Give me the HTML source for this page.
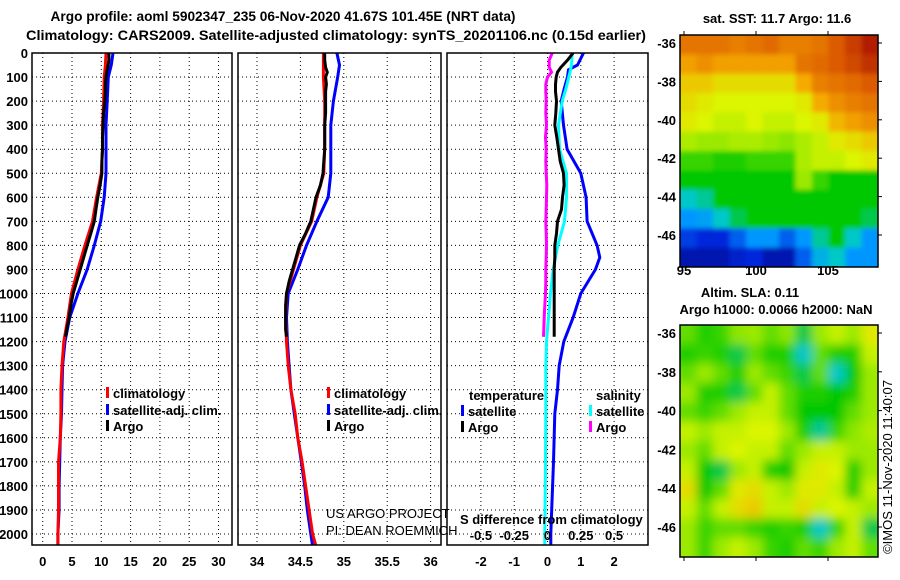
<!DOCTYPE html>
<html><head><meta charset="utf-8"><style>
html,body{margin:0;padding:0;background:#fff;}
svg{display:block;font-family:"Liberation Sans",Arial,sans-serif;}
.b{font-weight:bold;font-size:13px;}
</style></head><body>
<svg id="fig" width="900" height="580" viewBox="0 0 900 580" xmlns="http://www.w3.org/2000/svg">
<defs>
<clipPath id="c1"><rect x="32" y="53" width="200" height="492"/></clipPath>
<clipPath id="c2"><rect x="238" y="53" width="203" height="492"/></clipPath>
<clipPath id="c3"><rect x="447" y="53" width="201" height="492"/></clipPath>
<clipPath id="cm1"><rect x="680" y="35" width="198" height="232"/></clipPath>
<clipPath id="cm2"><rect x="680" y="325" width="198" height="232"/></clipPath>
<filter id="blur" x="0" y="0" width="1" height="1"><feGaussianBlur stdDeviation="5"/></filter>
<filter id="blur2" x="0" y="0" width="1" height="1"><feGaussianBlur stdDeviation="2.5"/></filter>
</defs>
<text x="283" y="21" text-anchor="middle" font-size="14" font-weight="bold" textLength="465" lengthAdjust="spacingAndGlyphs">Argo profile: aoml 5902347_235 06-Nov-2020 41.67S 101.45E (NRT data)</text>
<text x="336" y="40" text-anchor="middle" font-size="14" font-weight="bold" textLength="620" lengthAdjust="spacingAndGlyphs">Climatology: CARS2009. Satellite-adjusted climatology: synTS_20201106.nc (0.15d earlier)</text>
<g id="grids"></g>
<g id="curves"></g>
<g id="frames"></g>
<g id="labels"></g>
<g id="maps"></g>
</svg>
<script>
// ---------- Data ----------
const depthTicks=[0,100,200,300,400,500,600,700,800,900,1000,1100,1200,1300,1400,1500,1600,1700,1800,1900,2000];
const tTicks=[0,5,10,15,20,25,30];
const sTicks=[34,34.5,35,35.5,36];
const dTicks=[-2,-1,0,1,2];
const sdTickLabels=["-0.5","-0.25","0","0.25","0.5"];
const sdTickValues=[-0.5,-0.25,0,0.25,0.5];

const depthClim=[0,50,100,200,300,400,500,600,700,800,900,1000,1100,1200,1300,1400,1500,1600,1700,1800,1900,2000,2050];
const tempClim=[10.8,10.7,10.5,10.4,10.2,10.2,10.0,9.2,8.5,7.2,6.0,4.9,4.3,3.6,3.3,3.1,3.1,3.0,2.7,2.7,2.7,2.6,2.6];
const tempSat=[12.0,11.7,11.2,11.0,10.8,10.8,10.8,10.5,9.9,8.8,7.6,6.0,4.6,3.8,3.4,3.3,3.2,3.0,2.9,2.8,2.8,2.6,2.6];
const salClim=[34.765,34.765,34.765,34.78,34.78,34.78,34.77,34.69,34.63,34.5,34.42,34.34,34.33,34.34,34.36,34.39,34.44,34.47,34.52,34.56,34.6,34.64,34.68];
const salSat=[34.92,34.95,34.93,34.88,34.85,34.85,34.85,34.82,34.69,34.57,34.47,34.36,34.34,34.35,34.37,34.39,34.43,34.47,34.51,34.55,34.58,34.62,34.64];

const depthArgo=[0,30,60,80,100,130,160,200,250,300,350,400,450,500,550,600,650,700,750,800,850,900,950,1000,1050,1100,1150,1180];
const tempArgo=[11.3,11.3,11.1,10.9,10.8,10.7,10.7,10.6,10.4,10.3,10.2,10.2,10.1,10.1,9.8,9.4,9.1,8.8,8.2,7.6,7.0,6.4,5.8,5.2,4.8,4.5,4.1,3.9];
const salArgo=[34.78,34.78,34.79,34.81,34.79,34.80,34.79,34.79,34.79,34.78,34.78,34.78,34.77,34.76,34.73,34.68,34.65,34.62,34.56,34.49,34.45,34.41,34.37,34.34,34.33,34.33,34.33,34.34];

const depthDiff=[0,50,70,100,150,200,300,400,500,600,700,800,850,900,1000,1100,1200,1300,1400,1500,1700,2000,2050];
const dTempSat=[1.08,0.9,0.63,0.6,0.5,0.41,0.48,0.59,1.0,1.16,1.19,1.49,1.57,1.44,1.0,0.77,0.49,0.35,0.3,0.22,0.18,0.1,0.1];
const dSalSat=[0.74,0.72,0.69,0.64,0.55,0.44,0.33,0.36,0.57,0.57,0.51,0.31,0.24,0.17,0.09,0.03,-0.03,-0.05,-0.05,-0.05,-0.06,-0.08,-0.08];
const dTempArgo=[0.77,0.6,0.4,0.3,0.26,0.24,0.24,0.27,0.25,0.22,0.28,0.33,0.38,0.48,0.5,0.45,0.42,0.3,0.27,0.22,0.22,0.2,0.2,0.2,0.2,0.2,0.2,0.2];
const dSalArgo=[0.14,0.05,0.05,0.12,0.0,-0.05,-0.05,-0.04,-0.05,-0.03,-0.06,-0.04,-0.05,-0.04,-0.02,-0.03,-0.04,-0.05,-0.04,-0.03,-0.04,-0.05,-0.05,-0.06,-0.08,-0.1,-0.11,-0.12];

const lonTicks=[95,100,105];
const latTicks=[-36,-38,-40,-42,-44,-46];
const sstGrid=[
[.8,.8,.8,.78,.8,.82,.78,.78,.8,.85,.9,.95],
[.72,.75,.72,.72,.72,.72,.72,.8,.82,.85,.88,.92],
[.65,.65,.62,.62,.62,.62,.62,.7,.78,.8,.82,.85],
[.62,.6,.58,.58,.58,.58,.58,.6,.7,.75,.78,.8],
[.6,.58,.55,.55,.58,.55,.55,.58,.6,.68,.72,.75],
[.52,.5,.5,.52,.52,.5,.48,.52,.55,.6,.62,.65],
[.42,.42,.4,.4,.42,.42,.42,.52,.55,.55,.58,.6],
[.38,.38,.38,.38,.38,.38,.38,.5,.42,.38,.38,.38],
[.3,.32,.38,.38,.38,.38,.38,.38,.38,.38,.38,.38],
[.2,.22,.3,.35,.38,.38,.38,.38,.38,.38,.38,.35],
[.12,.1,.1,.15,.2,.2,.15,.2,.32,.38,.3,.2],
[.05,.05,.05,.08,.1,.05,.05,.15,.25,.3,.2,.2]];
const slaGrid=[
[.45,.4,.42,.48,.5,.45,.48,.35,.5,.55,.5,.6],
[.4,.42,.4,.35,.45,.4,.4,.3,.45,.4,.4,.55],
[.45,.5,.45,.4,.5,.45,.42,.35,.45,.3,.38,.5],
[.5,.4,.4,.35,.45,.55,.45,.4,.4,.38,.4,.5],
[.45,.42,.45,.5,.55,.55,.45,.38,.38,.38,.45,.5],
[.55,.5,.55,.55,.58,.58,.5,.4,.32,.42,.48,.52],
[.5,.45,.55,.58,.55,.55,.45,.5,.55,.55,.5,.5],
[.55,.38,.35,.5,.55,.4,.38,.55,.6,.58,.4,.5],
[.62,.38,.45,.6,.62,.55,.5,.6,.6,.55,.4,.55],
[.55,.45,.55,.62,.65,.55,.55,.62,.55,.58,.55,.5],
[.5,.42,.45,.45,.42,.4,.42,.4,.3,.42,.55,.35],
[.5,.42,.5,.55,.5,.42,.4,.45,.42,.5,.55,.45]];

// ---------- Scales ----------
const yD=d=>53+d*0.2405;
const xT=t=>42.7+t*5.86;
const xS=s=>257+(s-34)*86.8;
const xDf=v=>547.5+v*33.3;
const xSd=v=>547.5+v*4*33.3;
const mapLon=l=>684+(l-95)*14.4;
const mapLat1=l=>43+(-36-l)*19.2;
const mapLat2=l=>333+(-36-l)*19.4;

const NS="http://www.w3.org/2000/svg";
function mk(tag,attrs,parent){const e=document.createElementNS(NS,tag);for(const k in attrs)e.setAttribute(k,attrs[k]);parent.appendChild(e);return e;}
const G=document.getElementById('grids'),C=document.getElementById('curves'),F=document.getElementById('frames'),L=document.getElementById('labels'),M=document.getElementById('maps');

const panels=[{x0:32,x1:232,clip:'c1',xs:xT,ticks:tTicks,name:'temperature'},{x0:238,x1:441,clip:'c2',xs:xS,ticks:sTicks,name:'salinity'},{x0:447,x1:648,clip:'c3',xs:xDf,ticks:dTicks,name:'difference'}];
panels.forEach(p=>{
  depthTicks.forEach(d=>{
    const l=mk('line',{x1:p.x0,x2:p.x1,y1:yD(d),y2:yD(d),stroke:'#000','stroke-width':1,'stroke-dasharray':'1,3'},G);
    
    
  });
  p.ticks.forEach(t=>{
    const l=mk('line',{x1:p.xs(t),x2:p.xs(t),y1:53,y2:545,stroke:'#000','stroke-width':1,'stroke-dasharray':'1,3'},G);
    
    
    const tx=mk('text',{x:p.xs(t),y:566,'text-anchor':'middle',class:'b'},L);
    tx.textContent=String(t);
    
    
  });
  const r=mk('rect',{x:p.x0,y:53,width:p.x1-p.x0,height:492,fill:'none',stroke:'#000','stroke-width':1.5},F);
  
  
});
depthTicks.forEach(d=>{
  const tx=mk('text',{x:28,y:yD(d)+5,'text-anchor':'end',class:'b'},L);
  tx.textContent=String(d);
  
  
});

function curve(depths,vals,xs,color,clip,name){
  const pts=depths.map((d,i)=>xs(vals[i]).toFixed(1)+','+yD(d).toFixed(1)).join(' ');
  const pl=mk('polyline',{points:pts,fill:'none',stroke:color,'stroke-width':3,'clip-path':'url(#'+clip+')'},C);
  
  
}
curve(depthClim,tempSat,xT,'#0000ff','c1','temp-satellite-line');
curve(depthClim,tempClim,xT,'#ff0000','c1','temp-climatology-line');
curve(depthArgo,tempArgo,xT,'#000','c1','temp-argo-line');
curve(depthClim,salSat,xS,'#0000ff','c2','sal-satellite-line');
curve(depthClim,salClim,xS,'#ff0000','c2','sal-climatology-line');
curve(depthArgo,salArgo,xS,'#000','c2','sal-argo-line');
curve(depthDiff,dTempSat,xDf,'#0000ff','c3','temp-diff-satellite-line');
curve(depthDiff,dSalSat,xDf,'#00ffff','c3','sal-diff-satellite-line');
curve(depthArgo,dTempArgo,xDf,'#000','c3','temp-diff-argo-line');
curve(depthArgo,dSalArgo,xDf,'#ff00ff','c3','sal-diff-argo-line');

sdTickValues.forEach((v,i)=>{
  const tx=mk('text',{x:xSd(v),y:540,'text-anchor':'middle',class:'b'},L);
  tx.textContent=sdTickLabels[i];
  
  
});

// ---------- Maps ----------
const stops=[[0,[0,0,130]],[.1,[0,40,220]],[.2,[0,150,255]],[.3,[0,200,200]],[.38,[0,200,0]],[.48,[140,230,0]],[.58,[220,245,0]],[.7,[245,170,0]],[.85,[220,90,0]],[1,[160,0,0]]];
function cmap(v){for(let i=1;i<stops.length;i++){if(v<=stops[i][0]){const a=stops[i-1],b=stops[i],f=(v-a[0])/(b[0]-a[0]);return 'rgb('+a[1].map((c,j)=>Math.round(c+(b[1][j]-c)*f)).join(',')+')';}}return 'rgb(160,0,0)';}
function drawMap(grid,y0,clip,name,filt){
  const g=mk('g',{'clip-path':'url(#'+clip+')'},M);
  const inner=mk('g',{filter:'url(#'+filt+')'},g);
  const rows=grid.length,cols=grid[0].length,w=198/cols,h=232/rows;
  grid.forEach((row,r)=>row.forEach((v,c)=>{
    const rc=mk('rect',{x:(680+c*w-(c===0?8:0)).toFixed(2),y:(y0+r*h-(r===0?8:0)).toFixed(2),width:(w+0.6+(c===0||c===cols-1?8:0)).toFixed(2),height:(h+0.6+(r===0||r===rows-1?8:0)).toFixed(2),fill:cmap(v)},inner);
    
    
  }));
  const fr=mk('rect',{x:680,y:y0,width:198,height:232,fill:'none',stroke:'#000','stroke-width':1.5},M);
  
  
}
drawMap(sstGrid,35,'cm1','sst-map','blur2');
drawMap(slaGrid,325,'cm2','sla-map','blur');
latTicks.forEach(l=>{
  [[mapLat1(l),'sst'],[mapLat2(l),'sla']].forEach(([y,n])=>{
    const tx=mk('text',{x:676,y:y+5,'text-anchor':'end',class:'b'},M);
    tx.textContent=String(l);
    
    
    mk('line',{x1:878,x2:882,y1:y,y2:y,stroke:'#000'},M);
  });
});
lonTicks.forEach(l=>{
  const tx=mk('text',{x:mapLon(l),y:275,'text-anchor':'middle',class:'b'},M);
  tx.textContent=String(l);
  
  
  mk('line',{x1:mapLon(l),x2:mapLon(l),y1:557,y2:561,stroke:'#000'},M);
  mk('line',{x1:mapLon(l),x2:mapLon(l),y1:31,y2:35,stroke:'#000'},M);
});
</script>
<svg style="position:absolute;left:0;top:0" width="900" height="580">
<g font-family="Liberation Sans, Arial, sans-serif" font-weight="bold" font-size="13">
<rect x="106" y="387" width="3" height="11" fill="#f00"/>
<text x="113" y="398">climatology</text>
<rect x="106" y="404" width="3" height="11" fill="#00f"/>
<text x="113" y="415">satellite-adj. clim.</text>
<rect x="106" y="420" width="3" height="11" fill="#000"/>
<text x="113" y="431">Argo</text>
<rect x="327" y="387" width="3" height="11" fill="#f00"/>
<text x="334" y="398">climatology</text>
<rect x="327" y="404" width="3" height="11" fill="#00f"/>
<text x="334" y="415">satellite-adj. clim.</text>
<rect x="327" y="420" width="3" height="11" fill="#000"/>
<text x="334" y="431">Argo</text>
<text x="469" y="400">temperature</text>
<text x="596" y="400">salinity</text>
<rect x="461" y="405" width="3" height="11" fill="#00f"/>
<text x="468" y="416">satellite</text>
<rect x="461" y="421" width="3" height="11" fill="#000"/>
<text x="468" y="432">Argo</text>
<rect x="589" y="405" width="3" height="11" fill="#0ff"/>
<text x="596" y="416">satellite</text>
<rect x="589" y="421" width="3" height="11" fill="#f0f"/>
<text x="596" y="432">Argo</text>
<text x="460" y="524">S difference from climatology</text>
<text x="777" y="23" text-anchor="middle">sat. SST: 11.7 Argo: 11.6</text>
<text x="750" y="297" text-anchor="middle">Altim. SLA: 0.11</text>
<text x="776" y="314" text-anchor="middle">Argo h1000: 0.0066 h2000: NaN</text>
</g>
<g font-family="Liberation Sans, Arial, sans-serif" font-size="13">
<text x="326" y="518">US ARGO PROJECT</text>
<text x="326" y="535">PI: DEAN ROEMMICH</text>
<text transform="translate(892,467) rotate(-90)" text-anchor="middle">©IMOS 11-Nov-2020 11:40:07</text>
</g>
</svg>
</body></html>
